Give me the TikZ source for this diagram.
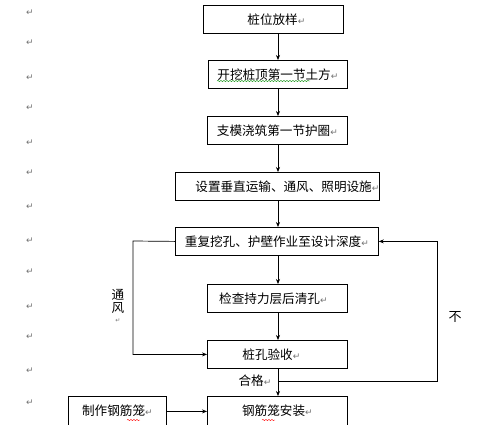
\documentclass[tikz,border=0pt]{standalone}
\usepackage{fontspec}
\setmainfont{Liberation Sans}
\newfontfamily\cjk{Noto Sans CJK SC}
\newfontfamily\dv{DejaVu Sans}
\usetikzlibrary{arrows.meta,decorations.pathmorphing}
\newcommand{\rt}{{\dv\fontsize{9}{9}\selectfont\textcolor{black!55}{↵}}}
\begin{document}
\begin{tikzpicture}[x=1pt,y=-1pt,
  box/.style={draw,line width=0.8pt,inner sep=0pt,minimum height=28pt,anchor=north west,
    font=\cjk\fontsize{12.6}{14}\selectfont},
  lbl/.style={inner sep=0pt,font=\cjk\fontsize{12.6}{13}\selectfont,align=center},
  arr/.style={-{Stealth[length=5pt,width=4pt]},line width=0.7pt},
  wavy/.style={decorate,decoration={snake,amplitude=0.6pt,segment length=3pt},line width=0.4pt}]
\path[use as bounding box] (0,0) rectangle (485,424);
\clip (0,0) rectangle (485,424);
\fill[white] (0,0) rectangle (485,424);
% margin paragraph marks
\foreach \yy [count=\i] in {13,43,78,108,143,173,207,241,272,307,337,371,403}
  \node[inner sep=0pt] (m\i) at (30,\yy) {\rt};
\coordinate (ax) at (278,0);
% boxes
\node[box,minimum width=140pt] (b1) at (203,5) {桩位放样\rt\hspace*{-6pt}};
\node[box,minimum width=139pt] (b2) at (208,60) {开挖桩顶第一节土方\rt};
\node[box,minimum width=140pt] (b3) at (207,116) {支模浇筑第一节护圈\rt};
\node[box,minimum width=203pt] (b4) at (175,172) {\hspace*{20pt}设置垂直运输、通风、照明设施\rt};
\node[box,minimum width=203pt] (b5) at (175,227) {重复挖孔、护壁作业至设计深度\rt};
\node[box,minimum width=140pt] (b6) at (207,284) {检查持力层后清孔\rt\hspace*{8pt}};
\node[box,minimum width=140pt] (b7) at (207,340) {桩孔验收\rt\hspace*{12pt}};
\node[box,minimum width=140pt,minimum height=30pt] (b8) at (207,396) {\raisebox{3pt}{钢筋笼安装\rt}};
\node[box,minimum width=98pt,minimum height=30pt] (b9) at (68,396) {\raisebox{3pt}{制作钢筋笼\rt}};
% arrows
\draw[arr] (b1.south -| ax) -- (b2.north -| ax);
\draw[arr] (b2.south -| ax) -- (b3.north -| ax);
\draw[arr] (b3.south -| ax) -- (b4.north -| ax);
\draw[arr] (b4.south -| ax) -- (b5.north -| ax);
\draw[arr] (b5.south -| ax) -- (b6.north -| ax);
\draw[arr] (b6.south -| ax) -- (b7.north -| ax);
\draw[arr] (b7.south -| ax) -- (b8.north -| ax);
\coordinate (lc) at (133,241);
\draw[arr] (b5.west) -- (lc) |- (b7.west);
\coordinate (j) at (278,381);
\coordinate (rc) at (437,381);
\draw[arr] (j) -- (rc) |- (b5.east);
\draw[arr] (b9.east) -- (b8.west |- b9.east);
% labels
\node[lbl] (tf) at (118,306) {通\\风\\[-3pt]{\dv\fontsize{6}{6}\selectfont\textcolor{black!55}{↵}}};
\node[lbl,font=\cjk\fontsize{13}{13}\selectfont] (bu) at (455,317) {不};
\node[lbl] (hg) at (255,381) {合格\rt};
% spell-check squiggles
\draw[wavy,green!55!black] (217,81) -- (310,81);
\draw[wavy,red] (127,420) -- (140,420);
\draw[wavy,red] (262,420) -- (275,420);
\end{tikzpicture}
\end{document}
